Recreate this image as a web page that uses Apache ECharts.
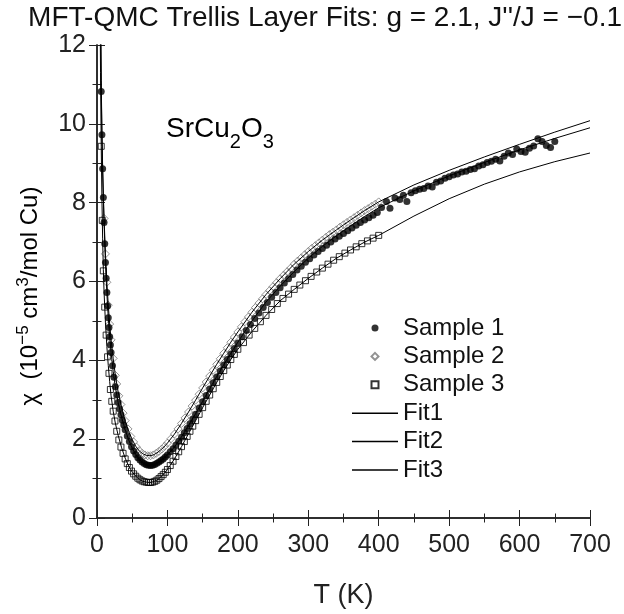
<!DOCTYPE html>
<html>
<head>
<meta charset="utf-8">
<script src="https://cdn.jsdelivr.net/npm/echarts@6/dist/echarts.min.js"></script>
<style>html,body{margin:0;padding:0;background:#fff;}#c{width:624px;height:614px;}</style>
</head>
<body>
<div id="c"></div>
<script>
const FONT = "'Liberation Sans', Arial, sans-serif";
const xTicks = [0, 700, 100];
const yTicks = [0, 12, 2];

const s1T = [6,7,8,9,10,11,12,13,14,15,16,17,18,19,20,22,24,26,28,30,32,34,36,38,40,43,46,49,52,55,58,61,64,67,70,73,76,79,82,85,88,91,94,97,100,104,108,112,116,120,124,128,132,136,140,145,150,155,160,165,170,175,180,185,190,195,200,206,212,218,224,230,236,242,248,254,260,266,272,278,284,290,296,302,308,314,320,326,332,338,344,350,356,362,368,374,380,386,392,398,404,411,416,423,430,435,440,446,452,458,464,470,476,482,488,494,500,506,512,518,524,530,536,542,548,554,560,566,572,578,584,590,596,602,608,614,620,626,632,638,644,650];
const s1Chi = [10.82,9.72,8.86,8.13,7.5,6.96,6.48,6.08,5.72,5.38,5.08,4.83,4.6,4.39,4.2,3.86,3.57,3.33,3.12,2.93,2.77,2.62,2.48,2.36,2.24,2.08,1.94,1.81,1.7,1.61,1.53,1.47,1.42,1.38,1.35,1.34,1.33,1.34,1.36,1.39,1.42,1.46,1.5,1.55,1.6,1.68,1.76,1.85,1.95,2.05,2.16,2.27,2.39,2.51,2.63,2.79,2.95,3.11,3.27,3.43,3.58,3.73,3.88,4.02,4.16,4.3,4.44,4.6,4.76,4.91,5.06,5.2,5.34,5.47,5.6,5.72,5.84,5.96,6.07,6.18,6.29,6.39,6.49,6.58,6.67,6.76,6.84,6.92,7.0,7.08,7.15,7.22,7.29,7.36,7.43,7.5,7.56,7.62,7.68,7.75,7.88,8.03,7.86,8.12,8.08,8.19,8.03,8.25,8.3,8.34,8.36,8.42,8.4,8.52,8.55,8.62,8.66,8.7,8.73,8.78,8.8,8.84,8.86,8.93,8.96,9.02,9.05,9.1,9.06,9.18,9.26,9.22,9.36,9.3,9.28,9.38,9.44,9.62,9.55,9.45,9.4,9.55];

const s2T = [10,12,14,16,18,20,23,26,28,31,34,37,40,44,48,52,56,60,64,68,72,76,80,84,88,92,96,100,105,110,115,120,125,130,135,140,145,150,155,160,165,170,175,180,185,190,195,200,205,210,215,220,225,230,235,240,245,250,255,260,265,270,275,280,285,290,295,300,305,310,315,320,325,330,335,340,345,350,355,360,365,370,375,380,385,390,395,400];
const s2Chi = [7.6,6.7,5.98,5.4,4.92,4.52,4.05,3.62,3.4,3.1,2.88,2.66,2.47,2.26,2.07,1.93,1.8,1.71,1.64,1.6,1.58,1.58,1.6,1.64,1.69,1.75,1.82,1.9,2.01,2.13,2.26,2.4,2.54,2.69,2.84,2.99,3.14,3.3,3.45,3.6,3.75,3.9,4.04,4.18,4.32,4.46,4.59,4.72,4.85,4.98,5.1,5.22,5.34,5.45,5.56,5.67,5.77,5.87,5.97,6.07,6.16,6.25,6.34,6.44,6.52,6.6,6.68,6.76,6.84,6.91,6.98,7.05,7.12,7.19,7.25,7.31,7.38,7.44,7.5,7.56,7.62,7.68,7.74,7.8,7.85,7.91,7.96,8.02];

const s3T = [6,7.5,9,11,13,15,17,19,21,23,25.5,28,31,34,37,40,43,46,49,52,55,58,61,64,67,70,73,76,79,82,85,88,91,94,97,100,104,108,112,116,120,124,128,132,136,140,145,150,155,160,165,170,175,180,185,190,195,200,208,216,224,232,240,248,256,264,272,280,288,296,304,312,320,328,336,344,352,360,368,376,384,392,400];
const s3Chi = [9.43,7.55,6.27,5.35,4.64,4.09,3.67,3.26,2.96,2.71,2.46,2.2,1.98,1.8,1.64,1.5,1.38,1.28,1.19,1.12,1.06,1.01,0.97,0.94,0.92,0.91,0.9,0.9,0.91,0.93,0.96,1.0,1.05,1.1,1.16,1.23,1.33,1.44,1.56,1.68,1.81,1.94,2.07,2.2,2.33,2.47,2.63,2.8,2.96,3.12,3.28,3.44,3.59,3.74,3.88,4.02,4.15,4.28,4.45,4.64,4.81,4.98,5.14,5.29,5.44,5.57,5.68,5.8,5.91,6.02,6.13,6.24,6.34,6.44,6.54,6.63,6.72,6.8,6.88,6.96,7.03,7.1,7.17];

const fitT = [4,5,6,7,8,9,10,12,14,16,18,20,23,26,30,35,40,45,50,55,60,65,70,75,80,85,90,95,100,110,120,130,140,150,160,170,180,190,200,220,240,260,280,300,320,340,360,380,400,450,500,550,600,650,700];
const fit1 = [16,13.0,10.9,9.72,8.86,8.13,7.5,6.48,5.7,5.08,4.6,4.2,3.72,3.33,2.93,2.55,2.24,1.98,1.77,1.61,1.49,1.4,1.35,1.33,1.35,1.39,1.45,1.52,1.6,1.8,2.06,2.35,2.65,2.96,3.28,3.59,3.89,4.18,4.46,5.0,5.48,5.88,6.25,6.59,6.89,7.16,7.41,7.65,7.87,8.3,8.68,9.02,9.34,9.63,9.9];
const fit2 = [16,13.2,11.1,9.8,8.9,8.2,7.62,6.7,5.98,5.4,4.92,4.52,4.04,3.63,3.2,2.8,2.46,2.2,1.99,1.82,1.7,1.63,1.59,1.58,1.6,1.65,1.72,1.8,1.9,2.13,2.4,2.69,2.99,3.3,3.6,3.9,4.18,4.46,4.72,5.22,5.67,6.07,6.44,6.76,7.05,7.31,7.56,7.8,8.02,8.45,8.82,9.16,9.48,9.79,10.08];
const fit3 = [14.2,11.3,9.43,8.1,7.1,6.3,5.75,4.95,4.35,3.87,3.46,3.1,2.71,2.41,2.1,1.78,1.52,1.32,1.17,1.06,0.98,0.93,0.91,0.9,0.92,0.96,1.03,1.12,1.23,1.5,1.81,2.14,2.47,2.8,3.12,3.44,3.74,4.02,4.28,4.73,5.14,5.51,5.8,6.08,6.34,6.59,6.8,7.0,7.17,7.66,8.1,8.47,8.78,9.04,9.26];

const pair = (xs, ys) => xs.slice(0, Math.min(xs.length, ys.length)).map((x, i) => [x, ys[i]]);

const AX = '#222';
function xAxisDef(pos, labels) {
  return {
    type: 'value', position: pos, min: xTicks[0], max: xTicks[1], interval: xTicks[2],
    axisLine: { show: true, lineStyle: { color: AX, width: 1.5 } },
    axisTick: { show: true, inside: true, length: 8, lineStyle: { color: AX, width: 1 } },
    minorTick: { show: true, splitNumber: 2, length: 4.5, lineStyle: { color: AX, width: 1 } },
    splitLine: { show: false }, minorSplitLine: { show: false },
    axisLabel: { show: labels, margin: 15, fontSize: 25, color: '#222', fontFamily: FONT },
    name: labels ? 'T (K)' : '', nameLocation: 'middle', nameGap: 64,
    nameTextStyle: { fontSize: 27, color: '#222', fontFamily: FONT }
  };
}
function yAxisDef(pos, labels) {
  return {
    type: 'value', position: pos, min: yTicks[0], max: yTicks[1], interval: yTicks[2],
    axisLine: { show: true, lineStyle: { color: AX, width: 1.5 } },
    axisTick: { show: true, inside: true, length: 8, lineStyle: { color: AX, width: 1 } },
    minorTick: { show: true, splitNumber: 2, length: 4.5, lineStyle: { color: AX, width: 1 } },
    splitLine: { show: false }, minorSplitLine: { show: false },
    axisLabel: { show: labels, margin: 11, fontSize: 25, color: '#222', fontFamily: FONT }
  };
}

const chart = echarts.init(document.getElementById('c'), null, { renderer: 'canvas' });
const supStyle = { fontSize: 17, fontFamily: FONT, color: '#222', lineHeight: 30, padding: [0, 0, 14, 0] };
const mainStyle = { fontSize: 24, fontFamily: FONT, color: '#222', lineHeight: 30 };
const annMain = { fontSize: 28, fontFamily: FONT, color: '#222', lineHeight: 34 };
const annSub = { fontSize: 20, fontFamily: FONT, color: '#222', lineHeight: 34, padding: [26, 0, 0, 0] };
const LINE_ICON = 'path://M0,0H46V1.5H0Z';
const DIAMOND_ICON = 'path://M4,0L8,4L4,8L0,4Z';
const SQUARE_ICON = 'path://M0,0H6V6H0Z';

chart.setOption({
  animation: false,
  backgroundColor: '#fff',
  title: {
    text: "MFT-QMC Trellis Layer Fits: g = 2.1, J''/J = \u22120.1",
    right: 2, top: 4, padding: 0,
    textStyle: { fontSize: 28, fontWeight: 'normal', color: '#111', fontFamily: FONT }
  },
  grid: { left: 97, right: 34, top: 45, bottom: 91, containLabel: false },
  xAxis: [xAxisDef('bottom', true), xAxisDef('top', false)],
  yAxis: [yAxisDef('left', true), yAxisDef('right', false)],
  legend: {
    orient: 'vertical', left: 347, top: 310, itemWidth: 46, itemHeight: 7, itemGap: 2.4,
    symbolKeepAspect: true,
    textStyle: { fontSize: 24, lineHeight: 26, color: '#111', fontFamily: FONT },
    data: [
      { name: 'Sample 1', icon: 'circle' },
      { name: 'Sample 2', icon: DIAMOND_ICON },
      { name: 'Sample 3', icon: SQUARE_ICON },
      { name: 'Fit1', icon: LINE_ICON },
      { name: 'Fit2', icon: LINE_ICON },
      { name: 'Fit3', icon: LINE_ICON }
    ]
  },
  graphic: [
    {
      type: 'text', left: 166, top: 106,
      style: {
        text: '{a|SrCu}{s|2}{a|O}{s|3}',
        rich: { a: annMain, s: annSub }
      }
    },
    {
      type: 'text', x: 30, y: 296, rotation: Math.PI / 2,
      style: {
        text: '{a|\u03c7  (10}{p|\u22125}{a| cm}{p|3}{a|/mol Cu)}',
        align: 'center', verticalAlign: 'middle',
        rich: { a: mainStyle, p: supStyle }
      }
    }
  ],
  series: [
    {
      name: 'Sample 3', type: 'scatter', data: pair(s3T, s3Chi), symbol: 'rect', symbolSize: 6,
      itemStyle: { color: 'rgba(255,255,255,0)', borderColor: '#000', borderWidth: 1 }, z: 2
    },
    {
      name: 'Sample 2', type: 'scatter', data: pair(s2T, s2Chi), symbol: 'diamond', symbolSize: 8,
      itemStyle: { color: 'rgba(255,255,255,0)', borderColor: '#777', borderWidth: 1 }, z: 2
    },
    {
      name: 'Sample 1', type: 'scatter', data: pair(s1T, s1Chi), symbol: 'circle', symbolSize: 7,
      itemStyle: { color: '#000' }, z: 3
    },
    { name: 'Fit1', type: 'line', data: pair(fitT, fit1), symbol: 'none', smooth: false, lineStyle: { color: '#000', width: 1 }, itemStyle: { color: '#000' }, z: 4 },
    { name: 'Fit2', type: 'line', data: pair(fitT, fit2), symbol: 'none', smooth: false, lineStyle: { color: '#000', width: 1 }, itemStyle: { color: '#000' }, z: 4 },
    { name: 'Fit3', type: 'line', data: pair(fitT, fit3), symbol: 'none', smooth: false, lineStyle: { color: '#000', width: 1 }, itemStyle: { color: '#000' }, z: 4 }
  ]
});
</script>
</body>
</html>
